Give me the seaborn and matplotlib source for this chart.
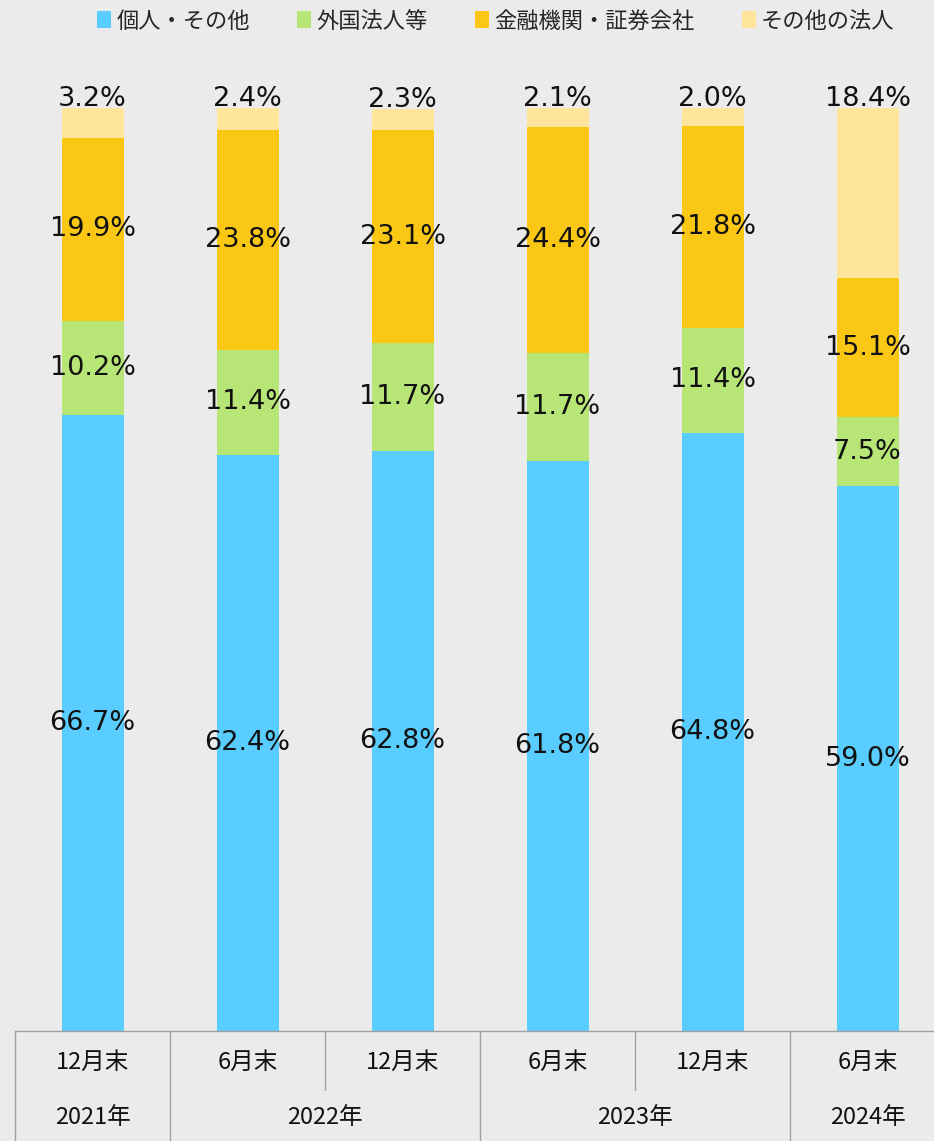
import matplotlib
matplotlib.use("Agg")
import matplotlib.pyplot as plt
import matplotlib.transforms as mtransforms
from matplotlib.patches import Patch
import seaborn as sns
import numpy as np

# ---- data ----
periods = ["2021年12月末", "2022年6月末", "2022年12月末", "2023年6月末", "2023年12月末", "2024年6月末"]
month_labels = ["12月末", "6月末", "12月末", "6月末", "12月末", "6月末"]
years = ["2021年", "2022年", "2023年", "2024年"]
year_groups = [[0], [1, 2], [3, 4], [5]]
series_names = ["個人・その他", "外国法人等", "金融機関・証券会社", "その他の法人"]
individual = [66.7, 62.4, 62.8, 61.8, 64.8, 59.0]
foreign = [10.2, 11.4, 11.7, 11.7, 11.4, 7.5]
financial = [19.9, 23.8, 23.1, 24.4, 21.8, 15.1]
other_corp = [3.2, 2.4, 2.3, 2.1, 2.0, 18.4]
series = [individual, foreign, financial, other_corp]
colors = ["#59CDFF", "#B8E676", "#FAC714", "#FFE49B"]

# ---- style ----
sns.set_style("white")
bg = "#EBEBEB"
plt.rcParams["font.family"] = ["Noto Sans CJK JP", "DejaVu Sans"]
plt.rcParams["figure.facecolor"] = bg
plt.rcParams["axes.facecolor"] = bg

fig = plt.figure(figsize=(9.34, 11.41), dpi=100)
ax = fig.add_axes([15 / 934, 110 / 1141, 919 / 934, 986 / 1141])

vals = np.array(series)
cum = np.cumsum(vals, axis=0)

# draw stacked bars from top layer down (overlay cumulative totals)
for k in range(len(series) - 1, -1, -1):
    sns.barplot(x=periods, y=cum[k], color=colors[k], width=0.4, saturation=1,
                edgecolor="none", linewidth=0, ax=ax, order=periods)

ax.set_xlim(-0.5, -0.5 + 919 / 155)
ax.set_ylim(0, 986 / 9.23)

# value labels
for k in range(len(series)):
    for i in range(len(periods)):
        v = vals[k, i]
        bottom = cum[k, i] - v
        if k == len(series) - 1:
            y = cum[k, i] + 1.0
        else:
            y = bottom + v / 2
        ax.text(i, y, f"{v:.1f}%", ha="center", va="center",
                fontsize=19.5, family="DejaVu Sans", color="#111111")

# axes cosmetics
for s in ["top", "right", "left"]:
    ax.spines[s].set_visible(False)
ax.spines["bottom"].set_color("#A0A0A0")
ax.spines["bottom"].set_linewidth(1.0)
ax.set_yticks([])
ax.set_xticks([])
ax.set_xlabel("")
ax.set_ylabel("")

# two-level category table below axis
trans = mtransforms.blended_transform_factory(ax.transData, ax.transAxes)
row1_bottom = -(1090 - 1031) / 986
table_bottom = -(1141 - 1031) / 986
line_kw = dict(color="#A0A0A0", lw=1.0, transform=trans, clip_on=False)

for g in year_groups:
    left = g[0] - 0.5
    ax.plot([left, left], [0, table_bottom], **line_kw)
    for j in g[1:]:
        ax.plot([j - 0.5, j - 0.5], [0, row1_bottom], **line_kw)

for i, lab in enumerate(month_labels):
    ax.text(i, -(1062 - 1031) / 986, lab, ha="center", va="center",
            fontsize=17, transform=trans, color="#111111")
for yr, g in zip(years, year_groups):
    ax.text(np.mean(g), -(1117 - 1031) / 986, yr, ha="center", va="center",
            fontsize=17, transform=trans, color="#111111")

# legend
handles = [Patch(facecolor=c, edgecolor="none") for c in colors]
fig.legend(handles, series_names, loc="center", bbox_to_anchor=(0.531, 1 - 21 / 1141),
           ncol=4, frameon=False, fontsize=16, handlelength=0.6, handleheight=0.8,
           handletextpad=0.25, columnspacing=2.15)

fig.savefig("out.png", dpi=100, facecolor=bg)
